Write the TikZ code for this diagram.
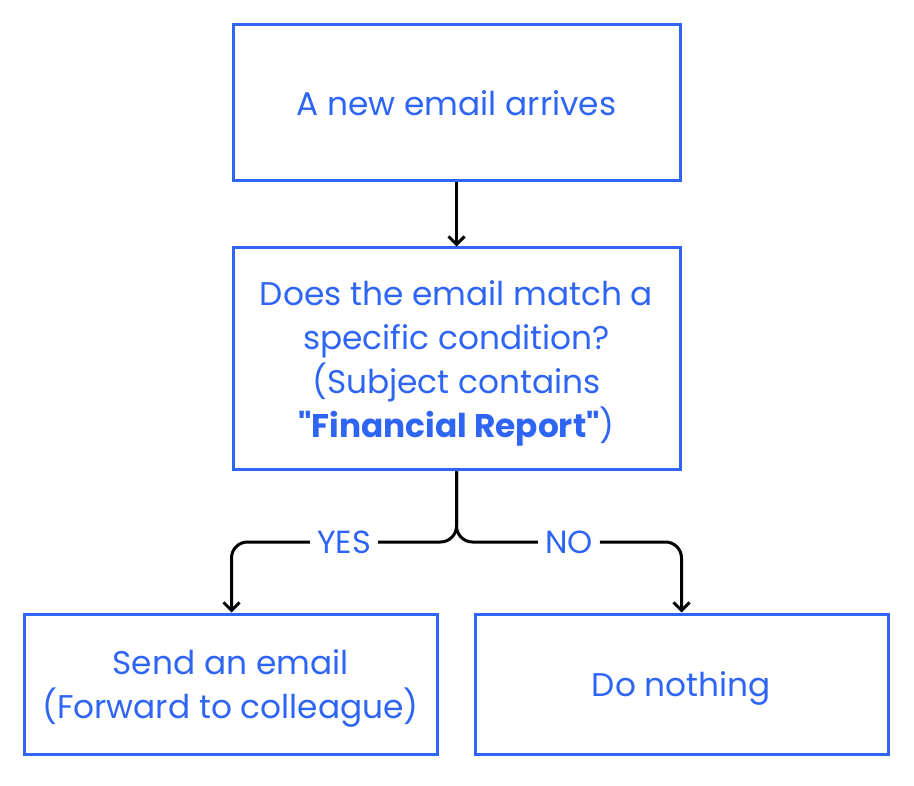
\documentclass[tikz,border=0pt]{standalone}
\usepackage{fontspec}
\setmainfont{Poppins}[Ligatures=TeXOff]
\usetikzlibrary{arrows.meta}
\definecolor{fblue}{HTML}{2F65F5}
\tikzset{
  box/.style={draw=fblue, line width=3pt, text=fblue, align=center, inner sep=0pt,
    text depth=0pt, font=\fontsize{32.8}{44}\selectfont},
  tip/.style={-{Straight Barb[length=8pt,width=16pt]}},
  conn/.style={line width=3pt, draw=black, rounded corners=16pt, tip},
  lbl/.style={fill=white, text=fblue, inner xsep=7pt, inner ysep=2pt,
    font=\fontsize{32}{36}\selectfont},
}
\begin{document}
\begin{tikzpicture}[x=1pt,y=-1pt]
\useasboundingbox (0,0) rectangle (914,786);
\node[box, minimum width=447pt, minimum height=156pt] (b1) at (456.5,103) {A new email arrives};
\node[box, minimum width=447pt, minimum height=222pt] (b2) at (456.5,359)
  {Does the email match a\\specific condition?\\(Subject contains\\\textbf{"Financial Report"})};
\node[box, minimum width=413pt, minimum height=140pt] (b3) at (230.5,684)
  {Send an email\\(Forward to colleague)};
\node[box, minimum width=413pt, minimum height=140pt] (b4) at (681.5,684) {Do nothing};
\coordinate (yc) at (231.5,542);
\coordinate (nc) at (681.5,542);
\draw[line width=3pt, tip] (b1.south) -- (b2.north);
\draw[conn] (b2.south) |- node[lbl, pos=0.75] {YES} (yc) -- (b3.north -| yc);
\draw[conn] (b2.south) |- node[lbl, pos=0.75] {NO} (nc) -- (b4.north -| nc);
\end{tikzpicture}
\end{document}
